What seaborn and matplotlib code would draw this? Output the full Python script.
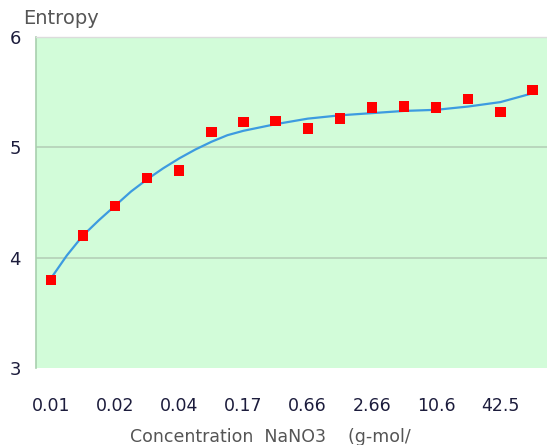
import numpy as np
import pandas as pd
import matplotlib
matplotlib.use("Agg")
import matplotlib.pyplot as plt
import seaborn as sns

# Measured entropy at each concentration step (16 samples)
point_idx = list(range(16))
entropy = [3.80, 4.20, 4.47, 4.72, 4.79, 5.14, 5.23, 5.24,
           5.17, 5.26, 5.36, 5.37, 5.36, 5.44, 5.32, 5.52]

# Smoothed trend curve
curve_idx = [0, 0.5, 1, 1.5, 2, 2.5, 3, 3.5, 4, 4.5, 5, 5.5, 6, 7,
             8, 9, 10, 11, 12, 13, 14, 15]
curve_val = [3.81, 4.02, 4.20, 4.34, 4.47, 4.60, 4.71, 4.81, 4.90, 4.98, 5.05,
             5.11, 5.15, 5.21, 5.26, 5.29, 5.31, 5.33, 5.34, 5.37, 5.41, 5.49]

# Tick labels (every other sample)
tick_pos = [0, 2, 4, 6, 8, 10, 12, 14]
tick_labels = ["0.01", "0.02", "0.04", "0.17", "0.66", "2.66", "10.6", "42.5"]
y_ticks = [3, 4, 5, 6]

pts = pd.DataFrame({"x": point_idx, "y": entropy})
crv = pd.DataFrame({"x": curve_idx, "y": curve_val})

sns.set_style("white")
fig = plt.figure(figsize=(5.47, 4.45), dpi=100)
ax = fig.add_axes([36/547, 77/445, 511/547, 331/445])
ax.set_facecolor("#d2fcd9")

# Trend line and data points
sns.lineplot(data=crv, x="x", y="y", ax=ax, color="#3d9be0", linewidth=1.6, zorder=3)
sns.scatterplot(data=pts, x="x", y="y", ax=ax, marker="s", s=55, color="#ff0000",
                edgecolor="none", zorder=4)

ax.set_xlim(-0.46, 15.45)
ax.set_ylim(3, 6)

# grid lines
for v in [4, 5]:
    ax.axhline(v, color="#b9d6bd", linewidth=1.4, zorder=1)

ax.set_yticks(y_ticks)
ax.set_yticklabels([str(v) for v in y_ticks])
ax.set_xticks(tick_pos)
ax.set_xticklabels(tick_labels)
ax.set_xticks([i + 0.5 for i in range(15)], minor=True)
ax.tick_params(axis="x", which="major", length=0, pad=21, labelsize=12.5,
               labelcolor="#1c1c3c")
ax.tick_params(axis="x", which="minor", length=5, width=0.8, color="#dddddd",
               direction="out")
ax.tick_params(axis="y", length=0, pad=11, labelsize=13, labelcolor="#1c1c3c")
ax.set_xlabel("")
ax.set_ylabel("")

for side in ["right", "bottom"]:
    ax.spines[side].set_visible(False)
ax.spines["left"].set_color("#a8cfae")
ax.spines["left"].set_linewidth(1.2)
ax.spines["top"].set_color("#dcdcdc")
ax.spines["top"].set_linewidth(1.0)

fig.text(23/547, 1 - 19/445, "Entropy", fontsize=14, color="#555555",
         ha="left", va="center")
fig.text(130/547, 3/445, "Concentration  NaNO3    (g-mol/", fontsize=12.5,
         color="#555555", ha="left", va="baseline")

fig.savefig("out.png", dpi=100)
